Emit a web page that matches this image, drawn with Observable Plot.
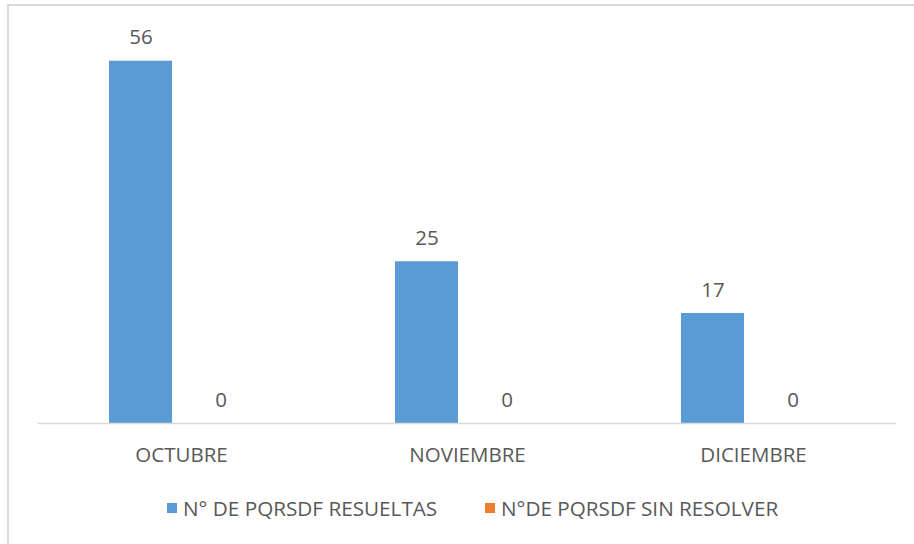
<!DOCTYPE html>
<html>
<head>
<meta charset="utf-8">
<script src="https://cdn.jsdelivr.net/npm/d3@7"></script>
<script src="https://cdn.jsdelivr.net/npm/@observablehq/plot@0.6"></script>
<style>
  html, body { margin: 0; padding: 0; background: #fff; overflow: hidden; }
  #wrap { position: relative; width: 914px; height: 544px; font-family: "Open Sans", sans-serif; color: #595959; }
  #frame { position: absolute; left: 7px; top: 4px; width: 940px; height: 600px;
           border-top: 2px solid #d9d9d9; border-left: 2px solid #d9d9d9; box-sizing: border-box; }
  #chart { position: absolute; left: 0; top: 0; }
  #legend { position: absolute; left: 0; top: 497px; width: 914px; height: 22px; font-size: 20.7px; line-height: 22px; }
  .item { position: absolute; top: 0; display: flex; align-items: center; white-space: nowrap; }
  .sw { width: 10px; height: 10px; margin-right: 6px; }
</style>
</head>
<body>
<div id="wrap">
  <div id="frame"></div>
  <div id="chart"></div>
  <div id="legend"></div>
</div>
<script>
const months = ["OCTUBRE", "NOVIEMBRE", "DICIEMBRE"];
const series = ["N° DE PQRSDF RESUELTAS", "N°DE PQRSDF SIN RESOLVER"];
const resueltas = [56, 25, 17];
const sinResolver = [0, 0, 0];
const colors = ["#5B9BD5", "#ED7D31"];

const data = [];
months.forEach((m, i) => {
  data.push({month: m, series: series[0], value: resueltas[i]});
  data.push({month: m, series: series[1], value: sinResolver[i]});
});

const chart = Plot.plot({
  width: 914,
  height: 480,
  marginLeft: 37,
  marginRight: 17,
  marginTop: 60.7,
  marginBottom: 57,
  style: {fontFamily: "'Open Sans', sans-serif", fontSize: "20.5px", color: "#595959", background: "transparent"},
  fx: {domain: months, padding: 0, label: null, axis: "bottom", tickSize: 0, tickPadding: 24},
  x: {domain: series, paddingInner: 0.21, paddingOuter: 0.875, axis: null},
  y: {domain: [0, 56], axis: null},
  color: {domain: series, range: colors},
  marks: [
    Plot.barY(data, {fx: "month", x: "series", y: "value", fill: "series"}),
    Plot.ruleY([0], {stroke: "#d9d9d9", strokeWidth: 1.5}),
    Plot.text(data, {fx: "month", x: "series", y: "value", text: d => String(d.value),
      dy: -17, lineAnchor: "bottom", fill: "#595959", fontSize: 20.5})
  ]
});
document.getElementById("chart").appendChild(chart);

const legend = document.getElementById("legend");
const lefts = [167, 485];
series.forEach((s, i) => {
  const item = document.createElement("div");
  item.className = "item";
  item.style.left = lefts[i] + "px";
  const sw = document.createElement("div");
  sw.className = "sw";
  sw.style.background = colors[i];
  const t = document.createElement("span");
  t.textContent = s;
  item.appendChild(sw);
  item.appendChild(t);
  legend.appendChild(item);
});
</script>
</body>
</html>
